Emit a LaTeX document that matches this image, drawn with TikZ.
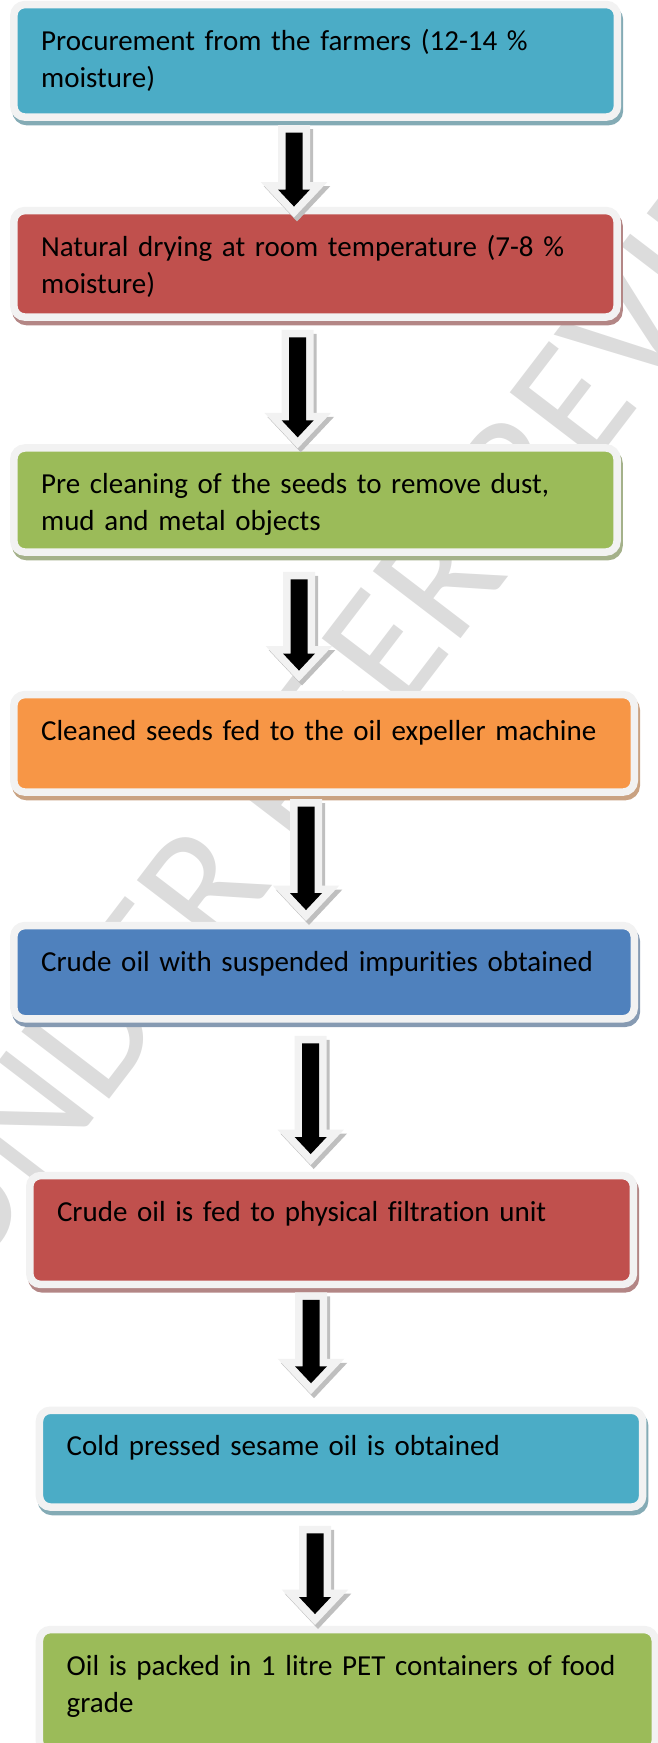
\documentclass[tikz,border=0pt]{standalone}
\usepackage{fontspec}
\setmainfont{Carlito}[Ligatures=NoCommon]
\usetikzlibrary{calc}

\definecolor{procblue}{HTML}{4BACC6}
\definecolor{dryred}{HTML}{C0504D}
\definecolor{cleangreen}{HTML}{9BBB59}
\definecolor{feedorange}{HTML}{F79646}
\definecolor{crudeblue}{HTML}{4F81BD}
\definecolor{rim}{HTML}{F2F2F2}
\definecolor{arrowshade}{HTML}{BFBFBF}
\definecolor{wmgray}{HTML}{DCDCDC}

\tikzset{
  stepbox/.style={rectangle, anchor=north west, rounded corners=11pt,
    fill=#1, draw=rim, line width=7.5pt, outer sep=0pt,
    inner xsep=27.25pt, inner ysep=0pt, text height=45.45pt, align=left,
    font=\fontsize{29}{37}\selectfont,
    preaction={draw=#1!50!gray!80!white, fill=#1!50!gray!80!white,
      line width=7.5pt, transform canvas={shift={(2pt,-4.5pt)}}}},
  downarrow/.style={fill=black,
    to path={let \p1=(\tikztostart), \p2=(\tikztotarget) in
      (\x1-8.5pt,\y1) -- (\x1-8.5pt,\y2+17pt) -- (\x1-16pt,\y2+17pt) -- (\x1,\y2)
      -- (\x1+16pt,\y2+17pt) -- (\x1+8.5pt,\y2+17pt) -- (\x1+8.5pt,\y1) -- cycle},
    preaction={fill=arrowshade, draw=arrowshade, line width=15pt, line join=miter,
      transform canvas={shift={(3pt,-4pt)}}},
    preaction={fill=rim, draw=rim, line width=15pt, line join=miter}},
  watermarktext/.style={text=wmgray, font=\fontsize{172}{176}\selectfont}
}

\begin{document}
\begin{tikzpicture}[x=1pt, y=-1pt]
  \useasboundingbox (0,0) rectangle (657,1743);

  \node[watermarktext, rotate=52.6] (wm) at (376,660) {UNDER PEER REVIEW};

  \node[stepbox=procblue, text width=549.1pt, text depth=67.05pt] (b1) at (13.85,4.55)
    {Procurement from the farmers (12-14 \%\\moisture)};
  \node[stepbox=dryred, text width=548.7pt, text depth=61.05pt] (b2) at (13.85,210.55)
    {Natural drying at room temperature (7-8 \%\\moisture)};
  \node[stepbox=cleangreen, text width=548.7pt, text depth=58.65pt] (b3) at (13.85,447.95)
    {Pre cleaning of the seeds to remove dust,\\mud and metal objects};
  \node[stepbox=feedorange, text width=565.9pt, text depth=52.05pt] (b4) at (13.85,694.55)
    {Cleaned seeds fed to the oil expeller machine};
  \node[stepbox=crudeblue, text width=565.9pt, text depth=47.75pt] (b5) at (13.85,925.55)
    {Crude oil with suspended impurities obtained};
  \node[stepbox=dryred, text width=549.2pt, text depth=63.45pt] (b6) at (29.75,1175.55)
    {Crude oil is fed to physical filtration unit};
  \node[stepbox=procblue, text width=548.7pt, text depth=51.35pt] (b7) at (39.45,1410.25)
    {Cold pressed sesame oil is obtained};
  \node[stepbox=cleangreen, text width=561.3pt, text depth=77pt] (b8) at (39.45,1629.55)
    {Oil is packed in 1 litre PET containers of food\\grade};

  \foreach \src/\dst/\ax/\gs/\ge in {b1/b2/294/15.6/4, b2/b3/297.7/20.3/10.6,
      b3/b4/299/27.3/24, b4/b5/306/14.6/15.5, b5/b6/310.7/24.5/21.5,
      b6/b7/311/15.5/27, b7/b8/315/26.3/15.5}
    \fill[downarrow] ($(\src.south -| \ax,0)+(0,\gs)$) to ($(\dst.north -| \ax,0)-(0,\ge)$);
\end{tikzpicture}
\end{document}
